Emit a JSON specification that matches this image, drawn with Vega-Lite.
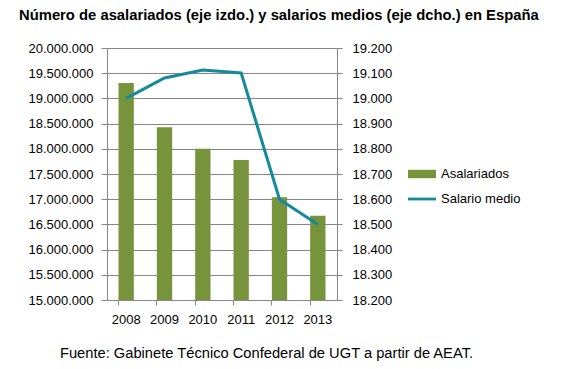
{
  "$schema": "https://vega.github.io/schema/vega-lite/v6.json",
  "width": 230,
  "height": 252,
  "autosize": {"type": "none"},
  "padding": {"left": 107, "top": 48, "right": 224, "bottom": 69},
  "background": "#ffffff",
  "config": {
    "locale": {"number": {"decimal": ",", "thousands": ".", "grouping": [3], "currency": ["", " €"]}},
    "view": {"stroke": null},
    "font": "Liberation Sans"
  },
  "title": {
    "text": "Número de asalariados (eje izdo.) y salarios medios (eje dcho.) en España",
    "anchor": "start",
    "frame": "group",
    "dx": -88,
    "offset": 7,
    "baseline": "alphabetic",
    "font": "Liberation Sans",
    "fontSize": 14.8,
    "fontWeight": "bold",
    "color": "#000000"
  },
  "data": {
    "values": [
      {"year": "2008", "asalariados": 19306000, "salario": 19000},
      {"year": "2009", "asalariados": 18430000, "salario": 19081},
      {"year": "2010", "asalariados": 18000000, "salario": 19113},
      {"year": "2011", "asalariados": 17780000, "salario": 19101},
      {"year": "2012", "asalariados": 17040000, "salario": 18600},
      {"year": "2013", "asalariados": 16670000, "salario": 18500}
    ]
  },
  "encoding": {
    "x": {
      "field": "year",
      "type": "ordinal",
      "scale": {"paddingInner": 0.6, "paddingOuter": 0.3},
      "axis": {
        "title": "Fuente: Gabinete Técnico Confederal de UGT a partir de AEAT.",
        "titleFont": "Liberation Sans",
        "titleFontSize": 14.7,
        "titleFontWeight": "normal",
        "titleColor": "#000000",
        "titleX": 159,
        "titleY": 57,
        "titleAlign": "center",
        "titleBaseline": "alphabetic",
        "labelAngle": 0,
        "labelFont": "Liberation Sans",
        "labelFontSize": 13,
        "labelColor": "#000000",
        "labelPadding": 8,
        "bandPosition": 0,
        "tickSize": 5,
        "tickColor": "#868686",
        "domainColor": "#868686",
        "grid": false
      }
    }
  },
  "layer": [
    {
      "mark": {"type": "bar", "color": "#77933C", "clip": true},
      "encoding": {
        "y": {
          "field": "asalariados",
          "type": "quantitative",
          "scale": {"domain": [15000000, 20000000], "nice": false, "zero": false},
          "axis": {
            "title": null,
            "values": [15000000, 15500000, 16000000, 16500000, 17000000, 17500000, 18000000, 18500000, 19000000, 19500000, 20000000],
            "format": ",.0f",
            "labelFont": "Liberation Sans",
            "labelFontSize": 13,
            "labelColor": "#000000",
            "labelPadding": 8,
            "tickSize": 6,
            "tickColor": "#868686",
            "domainColor": "#868686",
            "grid": true,
            "gridColor": "#868686",
            "gridWidth": 1
          }
        },
        "y2": {"datum": 15000000},
        "color": {
          "datum": "Asalariados",
          "scale": {"domain": ["Asalariados", "Salario medio"], "range": ["#77933C", "#148A9E"]},
          "legend": {
            "orient": "none",
            "legendX": 301,
            "legendY": 112,
            "title": null,
            "padding": 0,
            "labelFont": "Liberation Sans",
            "labelFontSize": 13,
            "labelColor": "#000000",
            "labelOffset": 5,
            "symbolSize": 784,
            "rowPadding": 4,
            "encode": {
              "symbols": {
                "update": {
                  "shape": {"signal": "datum.value === 'Asalariados' ? 'M-1,-0.3H1V0.3H-1Z' : 'M-1,-0.1H1V0.1H-1Z'"},
                  "fill": {"signal": "datum.value === 'Asalariados' ? '#77933C' : '#148A9E'"},
                  "fillOpacity": {"value": 1},
                  "strokeWidth": {"value": 0}
                }
              }
            }
          }
        }
      }
    },
    {
      "mark": {"type": "line", "strokeWidth": 3, "color": "#148A9E"},
      "encoding": {
        "y": {
          "field": "salario",
          "type": "quantitative",
          "scale": {"domain": [18200, 19200], "nice": false, "zero": false},
          "axis": {
            "orient": "right",
            "title": null,
            "values": [18200, 18300, 18400, 18500, 18600, 18700, 18800, 18900, 19000, 19100, 19200],
            "format": ",.0f",
            "labelFont": "Liberation Sans",
            "labelFontSize": 13,
            "labelColor": "#000000",
            "labelPadding": 10,
            "tickSize": 5,
            "tickColor": "#868686",
            "domainColor": "#868686",
            "grid": false
          }
        },
        "color": {"datum": "Salario medio"}
      }
    }
  ],
  "resolve": {"scale": {"y": "independent"}}
}
